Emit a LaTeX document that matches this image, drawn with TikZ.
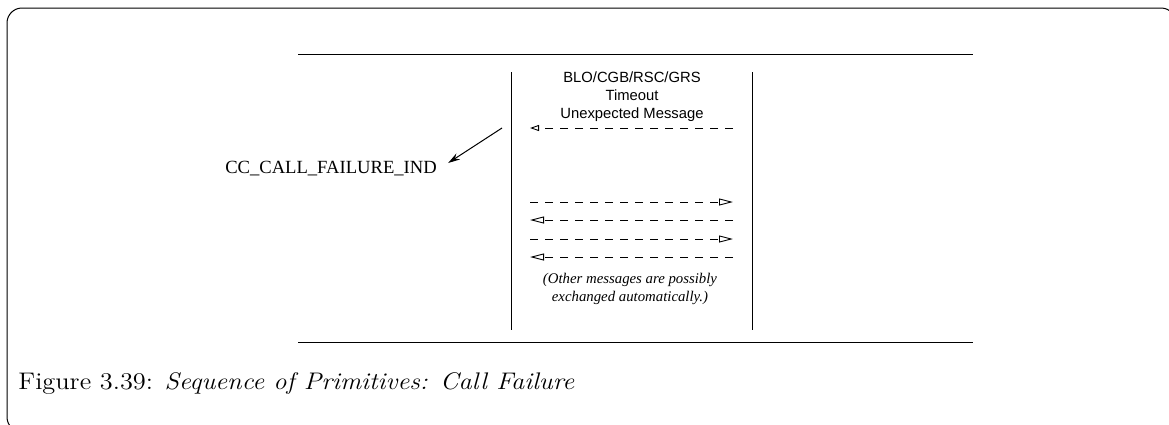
\documentclass[tikz,border=0pt]{standalone}
\usepackage{fontspec}
\usepackage{graphicx}
\usepackage{tikz}
\usetikzlibrary{arrows.meta,calc}
\newfontfamily\helvfont{Liberation Sans}
\newfontfamily\timesfont{Liberation Serif}

\begin{document}
\begin{tikzpicture}[
  x=0.5pt, y=-0.5pt,
  lifeline/.style={line width=0.5pt},
  rule/.style={line width=0.45pt},
  msg/.style={dash pattern=on 4pt off 3.5pt, line width=0.45pt,
    -{Triangle[open,length=7pt,width=3.5pt]}},
  msgtext/.style={font=\helvfont\fontsize{7.4}{9}\selectfont, align=center, inner sep=0pt},
  note/.style={font=\timesfont\itshape\fontsize{7.4}{9}\selectfont, align=center, inner sep=0pt},
  prim/.style={font=\timesfont\fontsize{9.3}{11}\selectfont, inner sep=2pt},
  arrow/.style={-{Stealth[length=6pt,width=3.5pt]}, line width=0.5pt}
]
\useasboundingbox (0,0) rectangle (1169,424);
% frame
\begin{scope}
  \clip (0,0) rectangle (1169,424);
  \draw[line width=0.5pt, rounded corners=7.5pt] (7,8) rectangle (1176,432);
\end{scope}

% rules above and below
\draw[rule] (298,54) -- (973,54);
\draw[rule] (298,342) -- (973,342);

% lifelines
\coordinate (user top) at (511,72);
\coordinate (user bot) at (511,330);
\coordinate (peer top) at (752,72);
\coordinate (peer bot) at (752,330);
\draw[lifeline] (user top) -- (user bot);
\draw[lifeline] (peer top) -- (peer bot);

% timeout
\node[msgtext] (timeout) at (632,97) {BLO/CGB/RSC/GRS\\Timeout\\Unexpected Message};
\coordinate (unexp src) at (733,128);
\coordinate (unexp dst) at (530,128);
\draw[msg, -{Triangle[open,length=4.5pt,width=3pt]}] (unexp src) -- (unexp dst);

% indication to the user
\node[prim] (ind) at (331,169) {CC\_CALL\_FAILURE\_IND};
\coordinate (fail) at (502,128);
\draw[arrow] (fail) -- ($(ind.east)+(7,-6)$);

% exchanged messages
\foreach \y/\a/\b [count=\i] in {202/530/733, 220/733/530, 239/530/733, 257/733/530} {
  \coordinate (src\i) at (\a,\y);
  \coordinate (dst\i) at (\b,\y);
  \draw[msg] (src\i) -- (dst\i);
}
\node[note] (auto) at (630,289) {(Other messages are possibly\\exchanged automatically.)};

% caption
\node[anchor=base west, inner sep=0pt] (caption) at (18,389)
  {\fontsize{12}{14}\selectfont\scalebox{1.1}[1]{Figure 3.39: \textit{Sequence of Primitives: Call Failure}}};
\end{tikzpicture}
\end{document}
